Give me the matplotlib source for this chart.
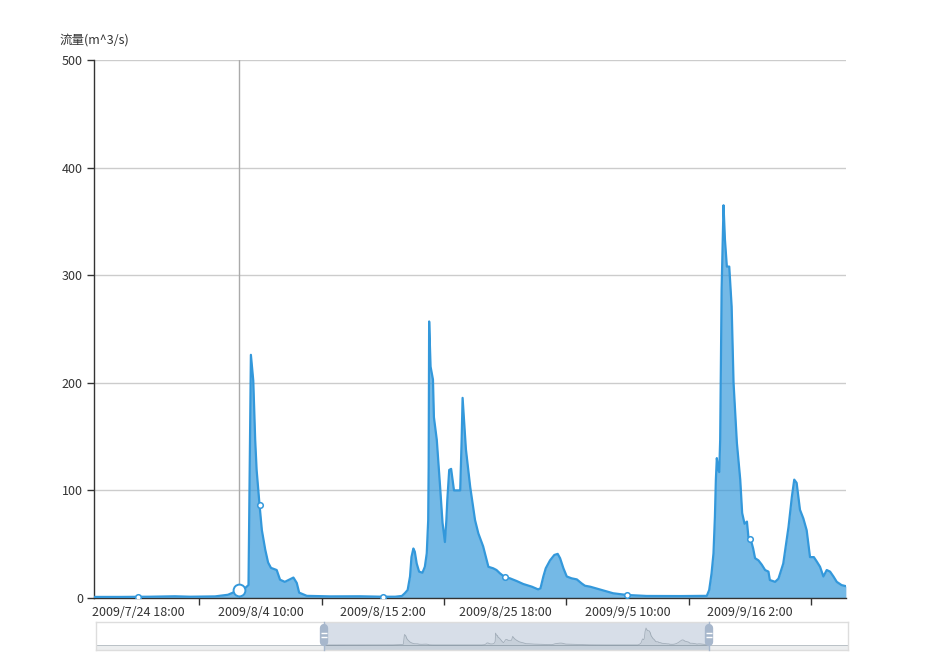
import matplotlib
matplotlib.use('Agg')
import matplotlib.pyplot as plt
import matplotlib.dates as mdates
import numpy as np

plt.rcParams['font.family'] = ['Noto Sans CJK SC', 'DejaVu Sans']

# ---------------- data ----------------
start_time = '2009-07-24T18:00'
# hours since start_time, and flow (m^3/s)
hours = [-92, -38, 25, 77, 109, 161, 188, 201, 211, 222, 231, 236, 241, 245, 248,
         254, 259, 266, 272, 278, 290, 297, 307, 325, 332, 337, 353, 402, 464, 510,
         538, 552, 558, 564, 569, 572, 576, 579, 583, 588, 595, 600, 604, 607, 608,
         609, 612, 617, 619, 625, 632, 637, 642, 645, 647, 651, 655, 661, 674, 677,
         679, 682, 686, 695, 701, 705, 712, 722, 733, 743, 750, 757, 768, 778, 792,
         806, 824, 837, 842, 848, 853, 862, 871, 878, 883, 890, 897, 907, 918, 928,
         935, 946, 994, 1023, 1064, 1134, 1190, 1195, 1200, 1204, 1207, 1209, 1211, 1214, 1216,
         1218, 1219, 1221, 1225, 1228, 1232, 1237, 1242, 1246, 1253, 1260, 1264, 1269, 1274,
         1277, 1284, 1287, 1291, 1298, 1305, 1312, 1319, 1322, 1333, 1340, 1350, 1361,
         1368, 1373, 1378, 1385, 1392, 1399, 1406, 1414, 1420, 1427, 1434, 1441, 1448,
         1455, 1462, 1472, 1481]
flow = [1.0, 1.0, 1.2, 1.6, 1.2, 1.5, 3, 5.5, 7.4, 8.5, 12, 226, 202, 147, 119,
        87, 63, 45, 33, 28, 26, 17, 15, 19, 14, 5, 2, 1.5, 1.6, 1.2,
        1.2, 1.9, 4.4, 7.4, 20, 38, 46, 43, 32, 24.5, 23.5, 29, 41.5, 72, 122,
        257, 215, 203, 168, 147, 103, 70, 52, 72, 91, 119, 120, 100, 100, 147,
        186, 165, 138, 103, 85, 72.5, 60, 48, 29, 27.6, 26, 23, 19.2, 18.3, 15.8,
        13, 10.5, 8, 9, 20, 27.6, 35, 40, 41, 37, 27.6, 20, 18.3, 17.3, 13.6,
        11.4, 10.5, 4.4, 2.8, 1.9, 1.8, 2, 7.4, 23, 41.5, 75.6, 110, 130, 119, 117,
        147, 193, 286, 365, 333, 308, 308, 271, 200, 144, 110, 79, 69, 71,
        57, 51, 46, 37, 35, 31, 26, 24.5, 16.7, 15, 18, 32, 66,
        94, 110, 107, 82, 74, 63, 38, 38, 34, 29, 20, 26, 24.5,
        20, 15, 12, 11]

label_hours = [0, 256, 512, 768, 1024, 1280]
tick_labels = ['2009/7/24 18:00', '2009/8/4 10:00', '2009/8/15 2:00',
               '2009/8/25 18:00', '2009/9/5 10:00', '2009/9/16 2:00']
marker_flow = [1.2, 86, 1.2, 19.2, 2.5, 55]
pointer_hour = 211
pointer_flow = 7.4
view_hours = [-92.3, 1481.3]          # visible window
full_hours = [-1027, 2052]            # whole range shown by the zoom slider
y_ticks = [0, 100, 200, 300, 400, 500]
y_title = '流量(m^3/s)'

# ---------------- helpers ----------------
base = mdates.date2num(np.datetime64(start_time))


def tx(h):
    return base + np.asarray(h, dtype=float) / 24.0


LINE = '#3398DB'
TXT = '#333333'

fig = plt.figure(figsize=(9.4, 6.58), dpi=100)
ax = fig.add_axes([94 / 940, 60 / 658, 752 / 940, 538 / 658])

x = tx(hours)
ax.fill_between(x, flow, 0, color=LINE, alpha=0.68, lw=0, zorder=2)
ax.plot(x, flow, color=LINE, lw=1.6, zorder=3, solid_joinstyle='round',
        solid_capstyle='round')

# pointer line and emphasised point
ax.axvline(tx(pointer_hour), color='#aaaaaa', lw=1, zorder=1.5)
ax.plot(tx(label_hours), marker_flow, 'o', ms=4, mfc='white', mec=LINE, mew=1.1,
        ls='none', zorder=4)
ax.plot([tx(pointer_hour)], [pointer_flow], 'o', ms=8.5, mfc='white', mec=LINE,
        mew=1.4, zorder=5)

ax.set_xlim(tx(view_hours[0]), tx(view_hours[1]))
ax.set_ylim(0, 500)

# y axis
ax.set_yticks(y_ticks)
ax.set_yticklabels([str(v) for v in y_ticks], fontsize=9, color=TXT)
ax.tick_params(axis='y', length=5, width=1, color=TXT, pad=3)
ax.grid(axis='y', color='#cccccc', lw=1)
ax.set_axisbelow(True)

# x axis: ticks between labels
lab_pos = tx(label_hours)
tick_pos = tx(np.array(label_hours) + 128)
ax.set_xticks(tick_pos)
ax.set_xticklabels([])
ax.set_xticks(lab_pos, minor=True)
ax.set_xticklabels(tick_labels, minor=True, fontsize=9, color=TXT)
ax.tick_params(axis='x', which='major', length=5, width=1, color=TXT)
ax.tick_params(axis='x', which='minor', length=0, pad=6)

for s in ['top', 'right']:
    ax.spines[s].set_visible(False)
for s in ['left', 'bottom']:
    ax.spines[s].set_color(TXT)
    ax.spines[s].set_linewidth(1)

fig.text(94 / 940, 1 - 40 / 658, y_title, ha='center', va='center',
         fontsize=9, color=TXT)

# ---------------- data zoom slider ----------------
sl = fig.add_axes([96 / 940, 8 / 658, 752 / 940, 28 / 658])
sl.set_xlim(tx(full_hours[0]), tx(full_hours[1]))
sl.set_ylim(-107, 494)
sl.set_xticks([])
sl.set_yticks([])
for s in sl.spines.values():
    s.set_color('#dddddd')
    s.set_linewidth(1)

sl.axhspan(-107, 0, color='#2f4554', alpha=0.09, lw=0, zorder=1)
sl.axhline(0, color='#2f4554', alpha=0.3, lw=0.6, zorder=2)
sl.fill_between(x, flow, 0, color='#2f4554', alpha=0.09, lw=0, zorder=1)
sl.plot(x, flow, color='#2f4554', alpha=0.3, lw=0.6, zorder=2)

x0, x1 = tx(view_hours[0]), tx(view_hours[1])
sl.axvspan(x0, x1, color=(167 / 255, 183 / 255, 204 / 255), alpha=0.45, lw=0,
           zorder=0.5)
trans = sl.get_xaxis_transform()
for xe in (x0, x1):
    sl.plot([xe, xe], [0, 1], transform=trans, color='#a7b7cc', lw=1, zorder=3,
            clip_on=False)
    sl.plot([xe, xe], [0.3, 0.77], transform=trans, color='#a7b7cc', lw=6,
            solid_capstyle='round', zorder=4, clip_on=False)
    sl.plot([xe, xe], [0.47, 0.6], transform=trans, color='white', lw=0,
            marker='_', ms=4, mew=1, zorder=5, clip_on=False)

fig.savefig('out.png', dpi=100)
